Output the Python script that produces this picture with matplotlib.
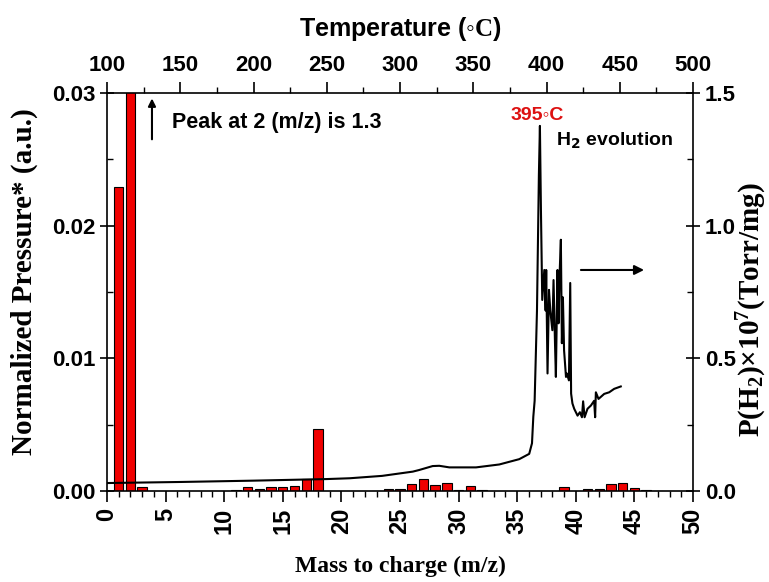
import matplotlib
matplotlib.use("Agg")
import matplotlib.pyplot as plt
from matplotlib.ticker import MultipleLocator

plt.rcParams['mathtext.fontset'] = 'custom'
plt.rcParams['mathtext.rm'] = 'Liberation Serif:bold'
plt.rcParams['mathtext.bf'] = 'Liberation Serif:bold'
plt.rcParams['mathtext.it'] = 'Liberation Serif:bold'

# Mass spectrum bars (normalized pressure)
mass = [1, 2, 3, 9, 11, 12, 13, 14, 15, 16, 17, 18,
        23, 24, 25, 26, 27, 28, 29, 30, 31, 32,
        39, 40, 41, 42, 43, 44, 45, 46, 47]
pressure = [0.0229, 1.3, 0.00028, 0.00003, 0.0001, 0.00028, 0.00018, 0.00028, 0.00028, 0.0004, 0.00088, 0.0047,
            0.00003, 0.00018, 0.00018, 0.0005, 0.00088, 0.00043, 0.00058, 0.0001, 0.00038, 0.00005,
            0.0003, 0.00003, 0.00018, 0.00018, 0.0005, 0.00058, 0.0002, 0.00005, 0.00003]

# H2 evolution curve
temp = [100, 150, 200, 250, 265.6, 287.8, 308.7, 313, 322.3, 326.8, 333.7, 351.9, 367.8, 381.4, 388.2,
        390.1, 391, 391.9, 393.5, 394.8, 395.5, 396.2, 397.1, 398.5, 399.4, 399.8, 400.7, 401.7, 402.6,
        404, 404.8, 405.8, 406.4, 407.5, 408.2, 408.9, 409.8, 410.5, 411.2, 412, 413.3, 413.9, 415.3,
        416.2, 416.8, 417.7, 418.9, 421.2, 422.8, 424.2, 425, 426, 428, 430.3, 432.5, 433.2, 433.7,
        435.5, 439.4, 442.8, 446.2, 450.7]
p_h2 = [0.03, 0.034, 0.039, 0.045, 0.048, 0.057, 0.073, 0.079, 0.094, 0.095, 0.089, 0.089, 0.10, 0.12, 0.14,
        0.18, 0.28, 0.34, 0.68, 1.19, 1.376, 1.06, 0.72, 0.833, 0.68, 0.833, 0.443, 0.758, 0.68,
        0.606, 0.795, 0.557, 0.43, 0.833, 0.632, 0.81, 0.947, 0.557, 0.73, 0.53, 0.43, 0.443, 0.417,
        0.784, 0.367, 0.33, 0.31, 0.284, 0.297, 0.278, 0.338, 0.278, 0.31, 0.322, 0.34, 0.278, 0.372,
        0.347, 0.366, 0.372, 0.385, 0.394]

fig = plt.figure(figsize=(7.69, 5.82), dpi=100)
pos = [107/769, 1-491/582, (693-107)/769, (491-93)/582]
ax = fig.add_axes(pos)

ax.bar(mass, pressure, width=0.8, color='#f00000', edgecolor='black', linewidth=0.8, zorder=2)
ax.set_xlim(0, 50)
ax.set_ylim(0, 0.03)
ax.xaxis.set_major_locator(MultipleLocator(5))
ax.xaxis.set_minor_locator(MultipleLocator(1))
ax.yaxis.set_minor_locator(MultipleLocator(0.005))
ax.set_yticks([0, 0.01, 0.02, 0.03])
ax.set_yticklabels(['0.00', '0.01', '0.02', '0.03'])
ax.tick_params(axis='x', which='major', direction='out', length=8, width=1.2, pad=4)
ax.tick_params(axis='x', which='minor', direction='out', length=4, width=1)
ax.tick_params(axis='y', which='major', direction='inout', length=10, width=1.2)
ax.tick_params(axis='y', which='minor', direction='in', length=4, width=1)
for lab in ax.get_xticklabels():
    lab.set_rotation(90)
    lab.set_fontsize(17)
for lab in ax.get_yticklabels():
    lab.set_fontsize(16)
for lab in ax.get_xticklabels() + ax.get_yticklabels():
    lab.set_fontfamily('Liberation Sans')
    lab.set_fontweight('bold')
for s in ax.spines.values():
    s.set_linewidth(1.2)
ax.set_xlabel('Mass to charge (m/z)', fontfamily='Liberation Serif', fontweight='bold', fontsize=17, labelpad=16)
ax.set_ylabel('Normalized Pressure* (a.u.)', fontfamily='Liberation Serif', fontweight='bold', fontsize=21)
ax.yaxis.set_label_coords(-0.117, 0.525)

axT = fig.add_axes(pos, frameon=False)
axT.plot(temp, p_h2, color='black', linewidth=1.5, zorder=3)
axT.set_xlim(100, 500)
axT.set_ylim(0, 1.5)
axT.xaxis.tick_top()
axT.xaxis.set_label_position('top')
axT.yaxis.tick_right()
axT.yaxis.set_label_position('right')
axT.xaxis.set_major_locator(MultipleLocator(50))
axT.xaxis.set_minor_locator(MultipleLocator(25))
axT.yaxis.set_major_locator(MultipleLocator(0.5))
axT.yaxis.set_minor_locator(MultipleLocator(0.25))
axT.tick_params(axis='x', which='major', direction='out', length=8, width=1.2, pad=4)
axT.tick_params(axis='x', which='minor', direction='out', length=4, width=1)
axT.tick_params(axis='y', which='major', direction='inout', length=10, width=1.2)
axT.tick_params(axis='y', which='minor', direction='in', length=4, width=1)
for lab in axT.get_xticklabels() + axT.get_yticklabels():
    lab.set_fontfamily('Liberation Sans')
    lab.set_fontweight('bold')
    lab.set_fontsize(16)
axT.set_xlabel('Temperature (\u25e6$\\mathrm{C}$)', fontfamily='Liberation Sans', fontweight='bold',
               fontsize=18, labelpad=14)
axT.set_ylabel(r'P(H$_\mathbf{2}$)$\times$10$^\mathbf{7}$(Torr/mg)', fontfamily='Liberation Serif',
               fontweight='bold', fontsize=21)
axT.yaxis.set_label_coords(1.071, 0.455)

axT.annotate('', xy=(130.7, 1.49), xytext=(130.7, 1.315),
             arrowprops=dict(arrowstyle='-|>', color='black', lw=1.5, mutation_scale=11))
axT.text(144.3, 1.388, 'Peak at 2 (m/z) is 1.3', fontfamily='Liberation Sans', fontweight='bold',
         fontsize=15.5, va='center', ha='left')
axT.text(393.7, 1.415, '395\u25e6C', color='#dd1111', fontfamily=['Liberation Sans', 'DejaVu Sans'],
         fontweight='bold', fontsize=14, va='center', ha='center')
axT.text(406.6, 1.32, r'H$_\mathbf{2}$ evolution', fontfamily='Liberation Sans', fontweight='bold',
         fontsize=14, va='center', ha='left', math_fontfamily='dejavusans')
axT.annotate('', xy=(468.5, 0.833), xytext=(421.6, 0.833),
             arrowprops=dict(arrowstyle='-|>', color='black', lw=1.5, mutation_scale=14))

fig.savefig('out.png', dpi=100)
